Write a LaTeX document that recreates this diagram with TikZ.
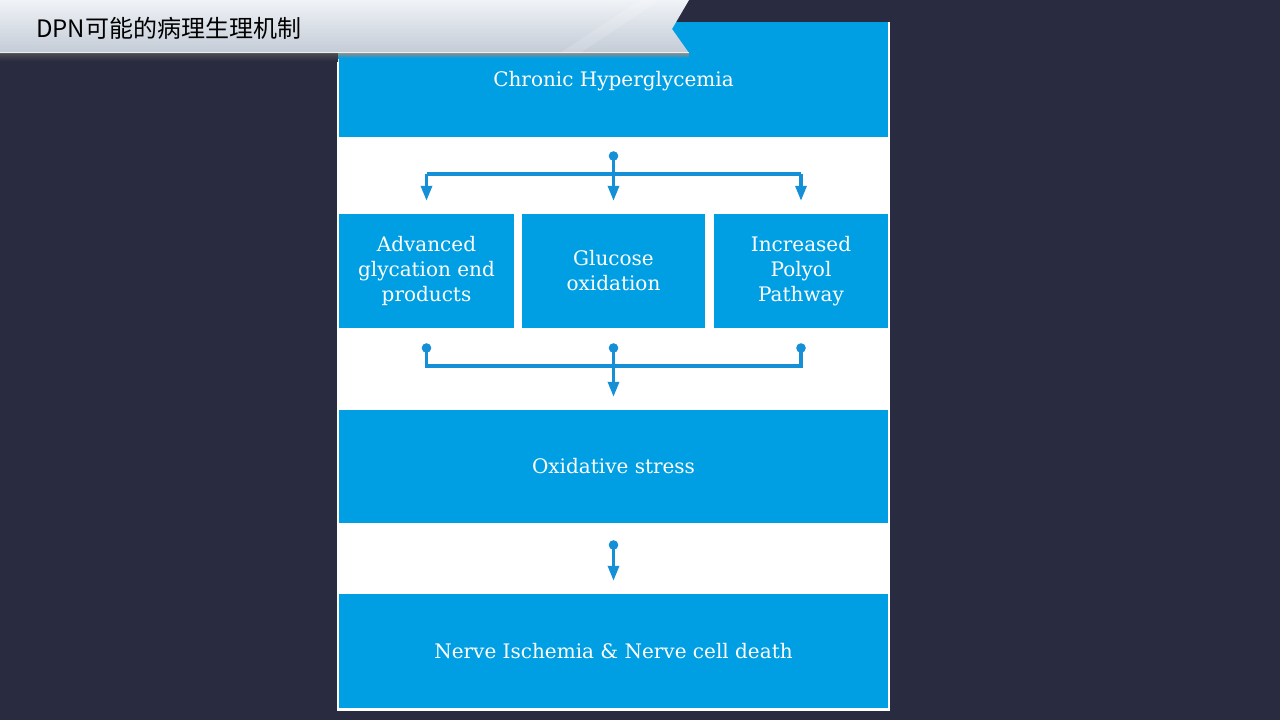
\documentclass[tikz,border=0pt]{standalone}
\usepackage{fontspec}
\setmainfont{DejaVu Serif}
\newfontfamily\cjk{Noto Sans CJK SC}
\usetikzlibrary{arrows.meta,shadings}
\definecolor{bgnavy}{HTML}{292C41}
\definecolor{boxblue}{HTML}{009FE3}
\definecolor{lineblue}{HTML}{1590D6}
\definecolor{banTop}{HTML}{F0F3F7}
\definecolor{banBot}{HTML}{C3CBD6}
\tikzset{
  blubox/.style={fill=boxblue, draw=none, inner sep=0pt, text=white, align=center,
    font=\fontsize{20}{25}\selectfont},
  conn/.style={draw=lineblue, line width=3.2pt},
  arr/.style={conn, -{Triangle[width=11pt,length=15pt]}, shorten >=13pt},
  dotmark/.style={fill=lineblue}
}
\begin{document}
\begin{tikzpicture}[x=1pt,y=-1pt]
\useasboundingbox (0,0) rectangle (1280,720);
\fill[bgnavy] (0,0) rectangle (1280,720);
% white panel
\fill[white] (337,22) rectangle (890,711);
% boxes
\node[blubox, minimum width=549pt, minimum height=115pt] (chr) at (613.5,79.5) {};
\node[text=white, font=\fontsize{20}{25}\selectfont] (chrtxt) at (613.5,81) {Chronic Hyperglycemia};
\node[blubox, minimum width=175pt, minimum height=114pt] (adv) at (426.5,271) {Advanced\\glycation end\\products};
\node[blubox, minimum width=183pt, minimum height=114pt] (glu) at (613.5,271) {Glucose\\oxidation};
\node[blubox, minimum width=174pt, minimum height=114pt] (inc) at (801,271) {Increased\\Polyol\\Pathway};
\node[blubox, minimum width=549pt, minimum height=113pt] (oxi) at (613.5,466.5) {Oxidative stress};
\node[blubox, minimum width=549pt, minimum height=114pt] (ner) at (613.5,651) {Nerve Ischemia \& Nerve cell death};
% top connector
\coordinate (t0) at (613.5,156);
\coordinate (th) at (613.5,174);
\draw[conn] (adv.north |- th) -- (inc.north |- th);
\draw[arr] (t0) -- (glu.north);
\draw[arr] (adv.north |- th) -- (adv.north);
\draw[arr] (inc.north |- th) -- (inc.north);
\fill[dotmark] (t0) circle (4.8pt);
% middle connector
\coordinate (m1) at (426.5,348);
\coordinate (m2) at (613.5,348);
\coordinate (m3) at (801,348);
\coordinate (mh) at (613.5,366);
\draw[conn] (m1) -- (m1 |- mh) -- (m3 |- mh) -- (m3);
\draw[arr] (m2) -- (oxi.north);
\fill[dotmark] (m1) circle (4.8pt);
\fill[dotmark] (m2) circle (4.8pt);
\fill[dotmark] (m3) circle (4.8pt);
% bottom connector
\coordinate (b0) at (613.5,545);
\draw[arr] (b0) -- (ner.north);
\fill[dotmark] (b0) circle (4.8pt);
% banner shadow
\shade[top color=black!70, bottom color=bgnavy] (0,53) rectangle (338,61);
\shade[top color=black!45, bottom color=boxblue] (338,53) rectangle (689,58);
% banner
\shade[top color=banTop, bottom color=banBot] (0,0) -- (689,0) -- (672,29) -- (689,53) -- (0,53) -- cycle;
\fill[white, opacity=0.15] (560,53) -- (640,0) -- (660,0) -- (580,53) -- cycle;
\draw[white, opacity=0.7, line width=0.8pt] (0,52.5) -- (689,52.5);
\node[anchor=west, inner sep=0pt, font=\cjk\fontsize{24}{26}\selectfont, text=black] (title) at (36,28) {DPN可能的病理生理机制};
\end{tikzpicture}
\end{document}
